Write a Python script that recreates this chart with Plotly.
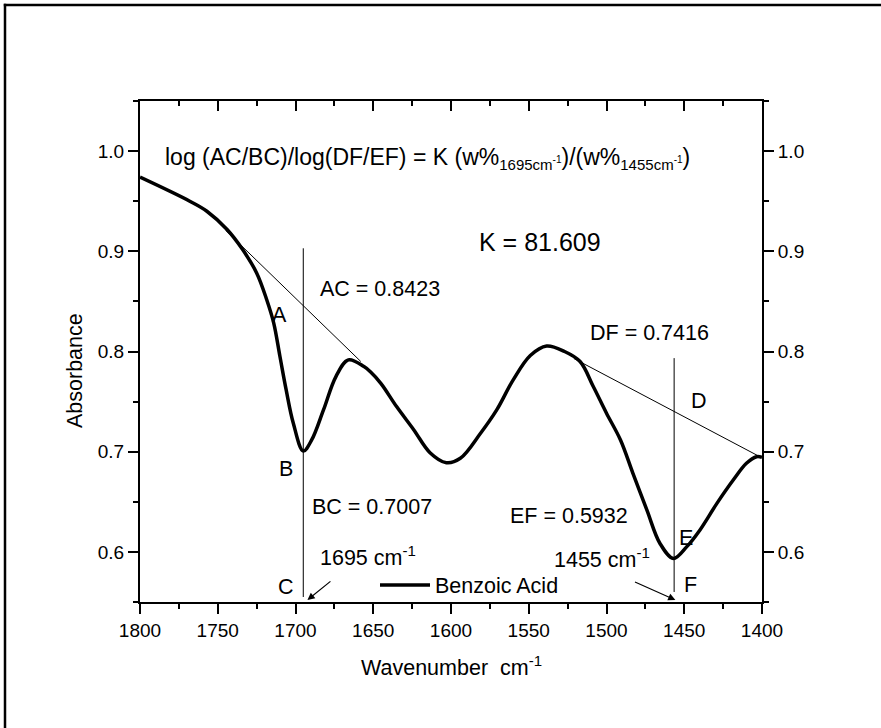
import plotly.graph_objects as go

# ---------------- data ----------------
wavenumber = [1800, 1768, 1757, 1744, 1734, 1725, 1718.5, 1714, 1710,
              1706, 1701.4, 1695, 1689.6, 1682, 1674, 1666, 1656, 1652, 1645, 1635, 1624,
              1613.5, 1603, 1594, 1581, 1570.6, 1560, 1549, 1538.5, 1527, 1517, 1508.5,
              1500, 1491, 1483, 1474, 1465.6, 1457, 1448.5, 1440, 1429, 1418.5, 1410,
              1403.5, 1400]
absorbance = [0.974, 0.950, 0.940, 0.9217, 0.9017, 0.8784, 0.8517, 0.8284, 0.795,
              0.7617, 0.7284, 0.7007, 0.7117, 0.7417, 0.775, 0.7917, 0.785, 0.780, 0.768, 0.745, 0.722,
              0.699, 0.689, 0.6934, 0.7184, 0.7417, 0.7717, 0.796, 0.8055, 0.800, 0.790, 0.765,
              0.7384, 0.7117, 0.6784, 0.6417, 0.6084, 0.5934, 0.605, 0.6217, 0.6484, 0.6717, 0.6884,
              0.695, 0.6944]

baseline1_x = [1745, 1658]
baseline1_y = [0.921, 0.790]
baseline2_x = [1521, 1402]
baseline2_y = [0.793, 0.6955]
vline1_x = [1695, 1695]
vline1_y = [0.555, 0.903]
vline2_x = [1456.5, 1456.5]
vline2_y = [0.560, 0.7934]

x_range = [1800, 1400]
y_range = [0.55, 1.05]
x_tickvals = [1800, 1750, 1700, 1650, 1600, 1550, 1500, 1450, 1400]
y_tickvals = [0.6, 0.7, 0.8, 0.9, 1.0]
y_ticktext = ["0.6", "0.7", "0.8", "0.9", "1.0"]

FONT = "Liberation Sans, Arial, sans-serif"
TICKF = dict(family=FONT, size=19, color="black")
TXT = 21.5

fig = go.Figure()
fig.add_trace(go.Scatter(x=wavenumber, y=absorbance, mode="lines", name="Benzoic Acid",
                         line=dict(color="black", width=3.5, shape="spline", smoothing=1.0),
                         hoverinfo="skip"))
for xs, ys in [(baseline1_x, baseline1_y), (baseline2_x, baseline2_y),
               (vline1_x, vline1_y), (vline2_x, vline2_y)]:
    fig.add_trace(go.Scatter(x=xs, y=ys, mode="lines", showlegend=False,
                             line=dict(color="black", width=1), hoverinfo="skip"))
# invisible trace to activate mirrored (top/right) axes
fig.add_trace(go.Scatter(x=wavenumber, y=absorbance, xaxis="x2", yaxis="y2", mode="lines",
                         line=dict(width=0, color="rgba(0,0,0,0)"), showlegend=False,
                         hoverinfo="skip"))

common = dict(showgrid=False, zeroline=False, showline=True, linecolor="black", linewidth=2,
              tickcolor="black", tickwidth=2, ticklen=10)
fig.update_layout(
    width=881, height=728,
    margin=dict(l=140, r=119, t=101, b=126),
    paper_bgcolor="white", plot_bgcolor="white",
    font=dict(family=FONT, color="black"),
    xaxis=dict(range=x_range, tickvals=x_tickvals, ticks="outside", tickfont=TICKF,
               minor=dict(dtick=25, tick0=1400, ticks="outside", ticklen=5, tickwidth=2,
                          tickcolor="black", showgrid=False), **common),
    xaxis2=dict(range=x_range, overlaying="x", side="top", anchor="y2", ticks="inside",
                tickvals=x_tickvals, showticklabels=False,
                minor=dict(dtick=25, tick0=1400, ticks="inside", ticklen=5, tickwidth=2,
                           tickcolor="black", showgrid=False), **common),
    yaxis=dict(range=y_range, tickvals=y_tickvals, ticktext=y_ticktext, ticks="outside",
               tickfont=TICKF,
               minor=dict(dtick=0.05, tick0=0.55, ticks="outside", ticklen=5, tickwidth=2,
                          tickcolor="black", showgrid=False), **common),
    yaxis2=dict(range=y_range, overlaying="y", side="right", anchor="x2", ticks="outside",
                tickvals=y_tickvals, ticktext=y_ticktext, tickfont=TICKF,
                minor=dict(dtick=0.05, tick0=0.55, ticks="outside", ticklen=5, tickwidth=2,
                           tickcolor="black", showgrid=False), **common),
    legend=dict(x=(375 - 140) / 622, y=(602 - 585) / 501, xanchor="left", yanchor="middle",
                bgcolor="rgba(0,0,0,0)", font=dict(family=FONT, size=TXT, color="black"),
                itemwidth=50),
    showlegend=True,
)

def px_x(px):
    return (px - 140) / 622

def px_y(py):
    return (602 - py) / 501

# outer frame: only its left and top edges fall inside the picture
fig.add_shape(type="line", xref="paper", yref="paper", x0=px_x(5), y0=px_y(3.8),
              x1=px_x(5), y1=px_y(740), line=dict(color="black", width=2.5), layer="below")
fig.add_shape(type="line", xref="paper", yref="paper", x0=px_x(3.8), y0=px_y(5),
              x1=px_x(900), y1=px_y(5), line=dict(color="black", width=2.5), layer="below")

def label(text, px, py, xanchor="center", size=TXT, angle=0):
    fig.add_annotation(text=text, xref="paper", yref="paper", x=px_x(px), y=px_y(py),
                       xanchor=xanchor, yanchor="middle", showarrow=False, textangle=angle,
                       font=dict(family=FONT, size=size, color="black"))

eq = ("log (AC/BC)/log(DF/EF) = K (w%<sub><span style='font-size:15px'>1695cm</span>"
      "<sup><span style='font-size:10px'>-1</span></sup></sub>)/(w%<sub>"
      "<span style='font-size:15px'>1455cm</span><sup><span style='font-size:10px'>-1</span></sup></sub>)")
label(eq, 163, 158, xanchor="left", size=23)
label("K = 81.609", 540, 242, size=25)
label("AC = 0.8423", 318, 289, xanchor="left")
label("A", 279, 315)
label("B", 285.6, 469)
label("BC = 0.7007", 310, 507, xanchor="left")
label("C", 285.8, 587)
label("1695 cm<sup>-1</sup>", 318, 556, xanchor="left")
label("DF = 0.7416", 588, 333, xanchor="left")
label("D", 698.5, 401)
label("EF = 0.5932", 508, 516, xanchor="left")
label("E", 685.8, 538)
label("1455 cm<sup>-1</sup>", 551.7, 558, xanchor="left")
label("F", 690, 585)
label("Absorbance", 75, 371, angle=-90)
label("Wavenumber  cm<sup>-1</sup>", 451, 666)

# arrows
fig.add_annotation(x=1692.3, y=0.552, ax=1675.6, ay=0.573, xref="x", yref="y", axref="x", ayref="y",
                   showarrow=True, arrowhead=2, arrowsize=1.2, arrowwidth=1.2, arrowcolor="black", text=" ")
fig.add_annotation(x=1455.7, y=0.552, ax=1483.6, ay=0.5713, xref="x", yref="y", axref="x", ayref="y",
                   showarrow=True, arrowhead=2, arrowsize=1.2, arrowwidth=1.2, arrowcolor="black", text=" ")

fig.write_html("out.html")
